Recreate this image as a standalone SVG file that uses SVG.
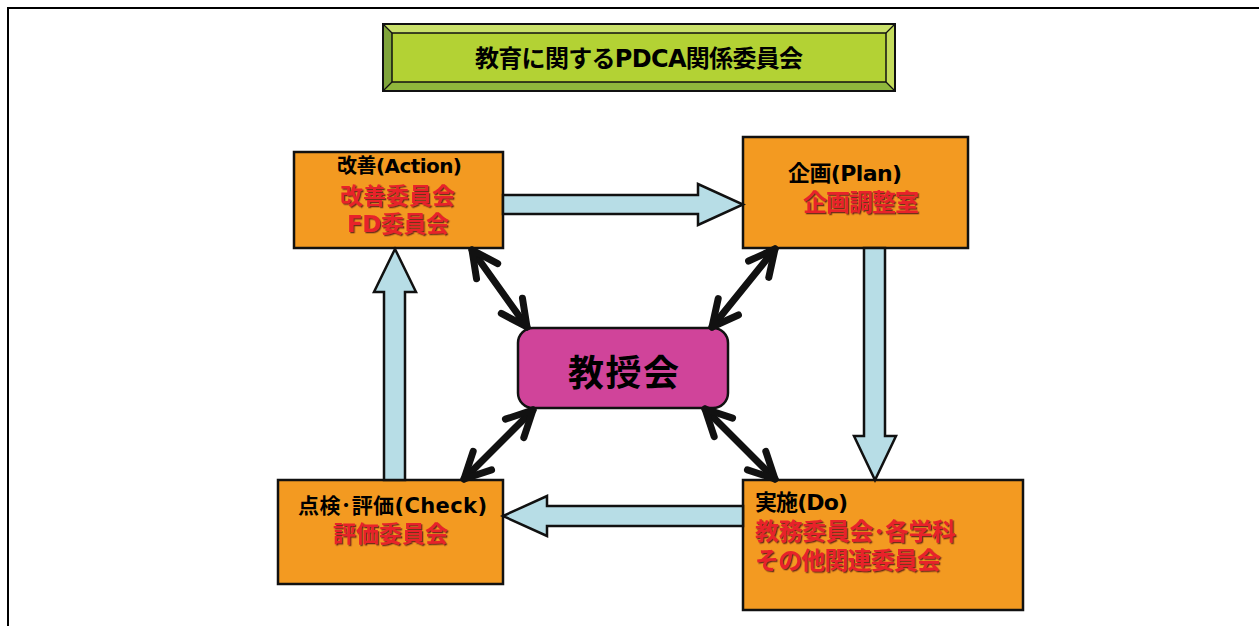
<svg xmlns="http://www.w3.org/2000/svg" width="1259" height="626" viewBox="0 0 1259 626">
<style>
  .t { font-family: "DejaVu Sans", "Noto Sans CJK JP", sans-serif; font-weight: bold; fill: #000; }
  .r { font-family: "DejaVu Sans", "Noto Sans CJK JP", sans-serif; font-weight: bold; fill: #e8242a; filter: url(#sh); }
  .box { fill: #f39a21; stroke: #111; stroke-width: 2.5; }
  .blk { fill: #b7dde6; stroke: #111; stroke-width: 2.5; stroke-linejoin: miter; }
  .dbl { fill: none; stroke: #111; stroke-width: 7; stroke-linecap: round; marker-start: url(#ah); marker-end: url(#ah); }
</style>
<defs>
  <filter id="sh" x="-10%" y="-20%" width="130%" height="160%">
    <feDropShadow dx="1.3" dy="1.3" stdDeviation="0.2" flood-color="#5a1d14" flood-opacity="0.85"/>
  </filter>
  <marker id="ah" markerUnits="userSpaceOnUse" orient="auto-start-reverse" overflow="visible" markerWidth="1" markerHeight="1" refX="0" refY="0">
    <path d="M-26,-13 L0,0 L-26,13" fill="none" stroke="#111" stroke-width="7" stroke-linecap="round" stroke-linejoin="round"/>
  </marker>
</defs>
<rect width="1259" height="626" fill="#fff"/>
<path d="M8,626 L8,8 L1259,8" fill="none" stroke="#000" stroke-width="2"/>

<g id="title">
  <rect x="383" y="24" width="512" height="67" fill="#b3d234"/>
  <polygon points="383,24 895,24 886,33 392,33" fill="#c9e06a"/>
  <polygon points="383,24 392,33 392,82 383,91" fill="#7fa43a"/>
  <polygon points="383,91 392,82 886,82 895,91" fill="#8fb73c"/>
  <polygon points="895,24 895,91 886,82 886,33" fill="#c4dc5c"/>
  <rect x="392" y="33" width="494" height="49" fill="none" stroke="#111" stroke-width="1.5"/>
  <line x1="383" y1="24" x2="392" y2="33" stroke="#111" stroke-width="1.2"/>
  <line x1="895" y1="24" x2="886" y2="33" stroke="#111" stroke-width="1.2"/>
  <line x1="383" y1="91" x2="392" y2="82" stroke="#111" stroke-width="1.2"/>
  <line x1="895" y1="91" x2="886" y2="82" stroke="#111" stroke-width="1.2"/>
  <rect x="383" y="24" width="512" height="67" fill="none" stroke="#111" stroke-width="2"/>
  <text class="t" x="475" y="67" font-size="24" textLength="328">教育に関するPDCA関係委員会</text>
</g>

<g id="action">
  <rect class="box" x="294" y="152" width="209" height="96"/>
  <text class="t" x="337" y="173" font-size="20" textLength="125">改善(Action)</text>
  <text class="r" x="340" y="204" font-size="23" textLength="115">改善委員会</text>
  <text class="r" x="347" y="232" font-size="23" textLength="102">FD委員会</text>
</g>

<g id="plan">
  <rect class="box" x="743" y="137" width="225" height="111"/>
  <text class="t" x="788" y="181" font-size="22" textLength="114">企画(Plan)</text>
  <text class="r" x="803" y="211" font-size="24" textLength="116">企画調整室</text>
</g>

<g id="check">
  <rect class="box" x="278" y="480" width="225" height="104"/>
  <text class="t" x="298" y="513" font-size="21" textLength="189">点検･評価(Check)</text>
  <text class="r" x="333" y="542" font-size="23" textLength="115">評価委員会</text>
</g>

<g id="do">
  <rect class="box" x="743" y="480" width="280" height="130"/>
  <text class="t" x="755" y="510" font-size="22" textLength="93">実施(Do)</text>
  <text class="r" x="755" y="540" font-size="24" textLength="201">教務委員会･各学科</text>
  <text class="r" x="755" y="569" font-size="24" textLength="186">その他関連委員会</text>
</g>

<g id="faculty">
  <rect x="518" y="328" width="210" height="80" rx="15" ry="15" fill="#d0449a" stroke="#111" stroke-width="2.5"/>
  <text class="t" x="568" y="386" font-size="36" textLength="111">教授会</text>
</g>

<g id="connectors">
  <polygon class="blk" points="503,195 698,195 698,184 743,204.5 698,225 698,214 503,214"/>
  <polygon class="blk" points="864,248 885,248 885,436 896,436 875,480 854,436 864,436"/>
  <polygon class="blk" points="743,506 547,506 547,496 503,516 547,536 547,526 743,526"/>
  <polygon class="blk" points="384,480 384,292 374,292 395,249 416,292 405,292 405,480"/>
  <line class="dbl" x1="472" y1="250" x2="527" y2="327"/>
  <line class="dbl" x1="775" y1="249" x2="712" y2="327"/>
  <line class="dbl" x1="533" y1="410" x2="464" y2="479"/>
  <line class="dbl" x1="705" y1="409" x2="775" y2="479"/>
</g>
</svg>
